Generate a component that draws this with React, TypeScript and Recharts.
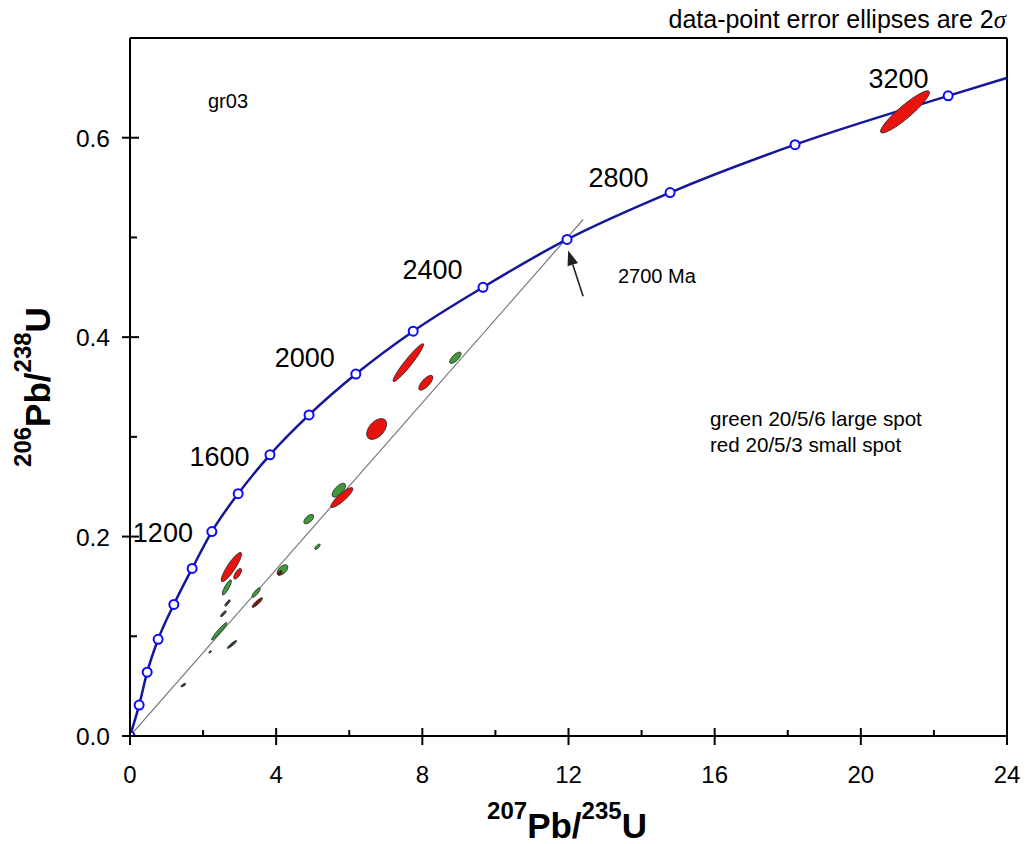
import { ComposedChart, XAxis, YAxis, Line, Scatter, ReferenceLine } from "recharts";

// concordia markers (last point = curve end, no marker)
const concX = [0, 0.25, 0.47, 0.77, 1.2, 1.7, 2.24, 2.96, 3.83, 4.9, 6.18, 7.75, 9.66, 11.96, 14.78, 18.2, 22.39, 24];
const concY = [0, 0.031, 0.064, 0.097, 0.132, 0.168, 0.205, 0.243, 0.282, 0.322, 0.363, 0.406, 0.45, 0.498, 0.545, 0.593, 0.642, 0.66];

// discordia chord through origin
const discX = [0, 12.4];
const discY = [0, 0.518];

// age labels on the concordia
const ageText = ["1200", "1600", "2000", "2400", "2800", "3200"];
const ageX = [0.9, 2.45, 4.78, 8.28, 13.37, 21.03];
const ageY = [0.204, 0.281, 0.38, 0.468, 0.56, 0.66];

// error ellipses: centre, half major axis (data units), minor/major ratio, group
const ellX = [2.774, 2.946, 2.65, 2.668, 2.555, 2.441, 2.791, 2.193, 1.46, 3.452, 3.484, 4.173, 4.1, 5.131, 4.893, 5.715, 5.797, 6.75, 7.616, 8.095, 8.904, 21.21];
const ellY = [0.1694, 0.1627, 0.149, 0.1334, 0.1226, 0.105, 0.0918, 0.0843, 0.051, 0.1438, 0.1338, 0.1665, 0.1635, 0.1898, 0.2175, 0.2465, 0.2391, 0.3079, 0.3744, 0.3542, 0.3793, 0.6259];
const ellAx = [0.264, 0.0917, 0.1136, 0.0684, 0.0725, 0.2052, 0.1286, 0.0315, 0.0643, 0.1054, 0.1368, 0.13, 0.05, 0.0684, 0.1231, 0.1683, 0.2969, 0.2285, 0.4105, 0.1779, 0.1464, 0.661];
const ellAy = [0.01455, 0.00517, 0.00752, 0.00301, 0.00286, 0.00868, 0.00381, 0.001, 0.0015, 0.00467, 0.00467, 0.0045, 0.002, 0.00251, 0.00416, 0.00637, 0.00968, 0.00918, 0.01891, 0.00702, 0.00532, 0.02057];
const ellRatio = [0.23, 0.4, 0.25, 0.3, 0.3, 0.15, 0.2, 0.5, 0.35, 0.3, 0.25, 0.55, 0.6, 0.4, 0.5, 0.45, 0.25, 0.6, 0.15, 0.4, 0.4, 0.2];
const ellGroup = ["red", "red", "green", "dark", "dark", "green", "dark", "dark", "dark", "green", "darkred", "green", "darkred", "green", "green", "green", "red", "red", "red", "red", "green", "red"];

const xTicks = [0, 2, 4, 6, 8, 10, 12, 14, 16, 18, 20, 22, 24];
const yTicks = [0, 0.1, 0.2, 0.3, 0.4, 0.5, 0.6];

// chart pinned to the page corner so coordinates match the page
const W = 1025;
const H = 844;
const M = { top: 38, right: 18, left: 70, bottom: 58 };
const YW = 60;
const XH = 50;
const PL = M.left + YW;
const PW = W - PL - M.right;
const PH = H - M.top - M.bottom - XH;
const PB = M.top + PH;
const SX = PW / 24;
const SY = PH / 0.7;
const px = (x: number) => PL + x * SX;
const py = (y: number) => PB - y * SY;

const FILL: any = { red: "#e8120e", green: "#3f9a3c", dark: "#2c4a2c", darkred: "#7c1412" };

const concData = concX.map((x, i) => ({ x, y: concY[i], mark: i < concX.length - 1 }));
const discData = discX.map((x, i) => ({ x, y: discY[i] }));
const ellData = ellX.map((x, i) => ({ x, y: ellY[i], ax: ellAx[i], ay: ellAy[i], r: ellRatio[i], g: ellGroup[i] }));
const greenData = ellData.filter((d) => d.g === "green" || d.g === "dark");
const redData = ellData.filter((d) => d.g === "red" || d.g === "darkred");

const Ellipse = (props: any) => {
    const { cx, cy, payload } = props;
    const vx = payload.ax * SX;
    const vy = -payload.ay * SY;
    const rx = Math.hypot(vx, vy);
    const ang = (Math.atan2(vy, vx) * 180) / Math.PI;
    return (
        <ellipse cx={cx} cy={cy} rx={rx} ry={Math.max(rx * payload.r, 0.8)}
            transform={`rotate(${ang} ${cx} ${cy})`}
            fill={FILL[payload.g]} stroke="#2a2a2a" strokeWidth={0.8} />
    );
};

const XTick = (props: any) => {
    const { x, y, payload } = props;
    const major = payload.value % 4 === 0;
    return (
        <g>
            <line x1={x} x2={x} y1={y - (major ? 8 : 6)} y2={y + (major ? 9 : 0)} stroke="#000" strokeWidth={2} />
            {major && (
                <text x={x} y={y + 47} textAnchor="middle" fontSize={24} fill="#000">{payload.value}</text>
            )}
        </g>
    );
};

const YTick = (props: any) => {
    const { x, y, payload } = props;
    const major = Math.round(payload.value * 10) % 2 === 0;
    return (
        <g>
            <line x1={x - (major ? 8 : 0)} x2={x + (major ? 9 : 7)} y1={y} y2={y} stroke="#000" strokeWidth={2} />
            {major && (
                <text x={x - 20} y={y + 9} textAnchor="end" fontSize={24.5} fill="#000">{payload.value.toFixed(1)}</text>
            )}
        </g>
    );
};

const Dot = (props: any) => {
    const { cx, cy, payload, index } = props;
    if (!payload.mark) return <g key={index} />;
    return <circle key={index} cx={cx} cy={cy} r={4.5} fill="#fff" stroke="#0a0aff" strokeWidth={2} />;
};

export default function App() {
    const hx = px(11.99), hy = py(0.487);
    const tx = px(12.4), ty = py(0.441);
    const a = Math.atan2(hy - ty, hx - tx);
    const L = 15, Wd = 5.5;
    const bx = hx - L * Math.cos(a), by = hy - L * Math.sin(a);
    const head = `${hx},${hy} ${bx + Wd * Math.sin(a)},${by - Wd * Math.cos(a)} ${bx - Wd * Math.sin(a)},${by + Wd * Math.cos(a)}`;

    return (
        <div style={{ position: "absolute", left: 0, top: 0, fontFamily: "'Liberation Sans', Arial, sans-serif" }}>
            <ComposedChart width={W} height={H} margin={M}>
                <XAxis type="number" dataKey="x" domain={[0, 24]} ticks={xTicks} interval={0}
                    height={XH} tickSize={0} tickMargin={0} tick={<XTick />}
                    axisLine={{ stroke: "#000", strokeWidth: 2 }} allowDataOverflow />
                <YAxis type="number" dataKey="y" domain={[0, 0.7]} ticks={yTicks} interval={0}
                    width={YW} tickSize={0} tickMargin={0} tick={<YTick />}
                    axisLine={{ stroke: "#000", strokeWidth: 2 }} allowDataOverflow />
                <ReferenceLine y={0.7} stroke="#000" strokeWidth={2} />
                <ReferenceLine x={24} stroke="#000" strokeWidth={2} />

                <Line data={discData} dataKey="y" type="linear" stroke="#7a7a7a" strokeWidth={1.2}
                    dot={false} isAnimationActive={false} />
                <Scatter data={greenData} dataKey="y" shape={<Ellipse />} isAnimationActive={false} />
                <Scatter data={redData} dataKey="y" shape={<Ellipse />} isAnimationActive={false} />
                <Line data={concData} dataKey="y" type="monotone" stroke="#16169a" strokeWidth={2.5}
                    dot={<Dot />} isAnimationActive={false} />

                {ageText.map((t, i) => (
                    <text key={t} x={px(ageX[i])} y={py(ageY[i])} dy="0.36em" textAnchor="middle" fontSize={27} fill="#000">{t}</text>
                ))}

                <line x1={tx} y1={ty} x2={bx} y2={by} stroke="#222" strokeWidth={1.6} />
                <polygon points={head} fill="#222" />

                <text x={208} y={108} fontSize={20} fill="#000">gr03</text>
                <text x={618} y={283} fontSize={20} fill="#000">2700 Ma</text>
                <text x={710} y={426} fontSize={20.6} fill="#000">green 20/5/6 large spot</text>
                <text x={710} y={452} fontSize={20.6} fill="#000">red 20/5/3 small spot</text>
                <text x={1006} y={28} textAnchor="end" fontSize={25} fill="#000">
                    data-point error ellipses are 2<tspan fontFamily="'Liberation Serif', serif" fontStyle="italic">σ</tspan>
                </text>

                <text x={567} y={838} textAnchor="middle" fontWeight="bold" fill="#000">
                    <tspan fontSize={24} dy={-19}>207</tspan>
                    <tspan fontSize={35} dy={19}>Pb/</tspan>
                    <tspan fontSize={24} dy={-19}>235</tspan>
                    <tspan fontSize={35} dy={19}>U</tspan>
                </text>
                <text x={50} y={387} textAnchor="middle" fontWeight="bold" fill="#000" transform="rotate(-90 50 387)">
                    <tspan fontSize={24} dy={-19}>206</tspan>
                    <tspan fontSize={35} dy={19}>Pb/</tspan>
                    <tspan fontSize={24} dy={-19}>238</tspan>
                    <tspan fontSize={35} dy={19}>U</tspan>
                </text>
            </ComposedChart>
        </div>
    );
}
